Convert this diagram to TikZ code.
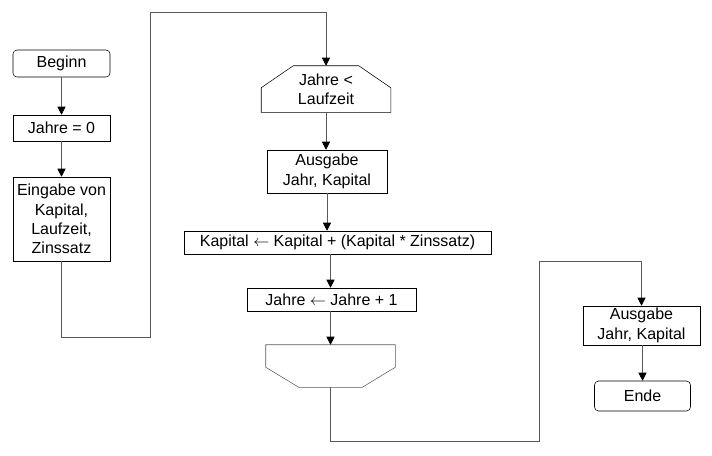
\documentclass[tikz,border=0pt]{standalone}
\usepackage{fontspec}
\setmainfont{Liberation Sans}
\usetikzlibrary{arrows.meta}

\begin{document}
\begin{tikzpicture}[x=0.75pt, y=-0.75pt,
  font=\fontsize{12}{14.5}\selectfont,
  box/.style={draw, shape=rectangle, align=center, inner sep=1pt},
  term/.style={box, rounded corners=3pt},
  loopbox/.style={shape=rectangle, align=center, inner sep=1pt},
  flow/.style={draw=black!65, -{Triangle[length=6pt, width=6pt, black]}},
  line/.style={draw=black!65}]
\useasboundingbox (0,0) rectangle (712,455);

% left column
\node[term, minimum width=72.75pt, minimum height=20.25pt] (begin) at (61.5,63.5) {Beginn};
\node[box, minimum width=72.75pt, minimum height=19.5pt] (jahreNull) at (61.5,128) {Jahre = 0};
\node[box, minimum width=72.75pt, minimum height=63pt] (eingabe) at (61.5,219) {Eingabe von\\Kapital,\\Laufzeit,\\Zinssatz};

% loop
\node[loopbox, minimum width=96.75pt, minimum height=34.5pt] (loopA) at (326,89) {Jahre <\\Laufzeit};
\node[box, minimum width=90pt, minimum height=32.25pt] (ausgabeA) at (327,171.5) {Ausgabe\\Jahr, Kapital};
\node[box, minimum width=230.25pt, minimum height=17.25pt] (kapital) at (337.5,242.5) {Kapital $\leftarrow$ Kapital + (Kapital * Zinssatz)};
\node[box, minimum width=126.75pt, minimum height=17.25pt] (jahreEins) at (331.5,299.5) {Jahre $\leftarrow$ Jahre + 1};
\node[loopbox, minimum width=96.75pt, minimum height=31.5pt] (loopB) at (330.5,366) {};

% right column
\node[box, minimum width=87.75pt, minimum height=29.25pt] (ausgabeB) at (641.5,325.5) {Ausgabe\\Jahr, Kapital};
\node[term, minimum width=72pt, minimum height=22.5pt] (ende) at (642.5,396) {Ende};

% loop outlines
\draw (loopA.south west) -- ([yshift=-16.5pt]loopA.north west) -- ([xshift=24pt]loopA.north west)
  -- ([xshift=-24pt]loopA.north east) -- ([yshift=-16.5pt]loopA.north east) -- (loopA.south east) -- cycle;
\draw[draw=black!65] (loopB.north west) -- ([yshift=15pt]loopB.south west) -- ([xshift=24.75pt]loopB.south west)
  -- ([xshift=-24.75pt]loopB.south east) -- ([yshift=15pt]loopB.south east) -- (loopB.north east) -- cycle;

\coordinate (bendA) at (150,337);
\coordinate (bendB) at (150,12);
\coordinate (bendC) at (539,441);
\coordinate (bendD) at (539,261);

\draw[flow] (begin) -- (jahreNull);
\draw[flow] (jahreNull) -- (eingabe);
\draw[flow] (eingabe.south) |- (bendA) -- (bendB) -| (loopA.north);
\draw[flow] (loopA.south) -- (loopA.south |- ausgabeA.north);
\draw[flow] (ausgabeA.south) -- (ausgabeA.south |- kapital.north);
\draw[flow] (kapital.south -| loopB) -- (jahreEins.north -| loopB);
\draw[flow] (loopB.north |- jahreEins.south) -- (loopB.north);
\draw[flow] (loopB.south) |- (bendC) -- (bendD) -| (ausgabeB.north);
\draw[flow] (ausgabeB.south -| ende) -- (ende.north);
\end{tikzpicture}
\end{document}
